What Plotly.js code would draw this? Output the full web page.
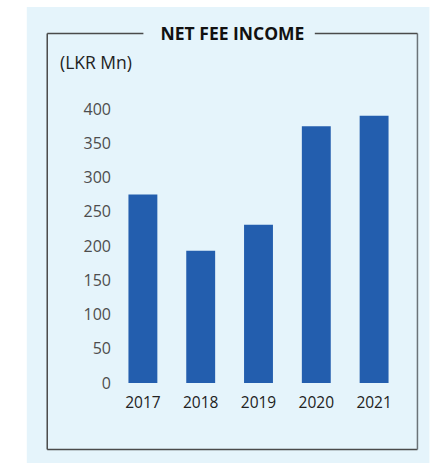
<!DOCTYPE html>
<html>
<head>
<meta charset="utf-8">
<script src="https://cdn.plot.ly/plotly-3.0.1.min.js"></script>
<style>html,body{margin:0;padding:0;background:#fff;}#chart{width:430px;height:463px;}</style>
</head>
<body>
<div id="chart"></div>
<script>
const years = ['2017', '2018', '2019', '2020', '2021'];
const netFeeIncome = [275, 193, 231, 375, 390];
const yTicks = [0, 50, 100, 150, 200, 250, 300, 350, 400];

const W = 430, H = 463;
const M = {l: 113.5, r: 26.5, t: 109, b: 80};
const pw = W - M.l - M.r, ph = H - M.t - M.b;
const px = v => (v - M.l) / pw;
const py = v => (H - M.b - v) / ph;

const lineStyle = {color: '#4a4a4a', width: 1.5};
const shapes = [
  {type: 'rect', xref: 'paper', yref: 'paper', x0: px(26), x1: px(430), y0: py(463), y1: py(7),
   fillcolor: '#e5f4fb', line: {width: 0}, layer: 'below'},
  {type: 'line', xref: 'paper', yref: 'paper', x0: px(46.5), x1: px(46.5), y0: py(33.5), y1: py(449.5), line: lineStyle},
  {type: 'line', xref: 'paper', yref: 'paper', x0: px(46.5), x1: px(418), y0: py(449.5), y1: py(449.5), line: lineStyle},
  {type: 'line', xref: 'paper', yref: 'paper', x0: px(418), x1: px(418), y0: py(33.5), y1: py(449.5), line: {color: '#6b7378', width: 1.5}},
  {type: 'line', xref: 'paper', yref: 'paper', x0: px(46.5), x1: px(143), y0: py(33.5), y1: py(33.5), line: lineStyle},
  {type: 'line', xref: 'paper', yref: 'paper', x0: px(315), x1: px(418), y0: py(33.5), y1: py(33.5), line: lineStyle}
];

const data = [{
  type: 'bar',
  x: years,
  y: netFeeIncome,
  marker: {color: '#235eae'},
  hoverinfo: 'x+y'
}];

const layout = {
  width: W, height: H,
  margin: M,
  paper_bgcolor: 'rgba(0,0,0,0)',
  plot_bgcolor: 'rgba(0,0,0,0)',
  font: {family: '"Open Sans", "Noto Sans", sans-serif'},
  bargap: 0.5,
  showlegend: false,
  title: {
    text: '<b>NET FEE INCOME</b>',
    font: {size: 17.5, color: '#111'},
    xref: 'container', yref: 'container',
    x: 232.5 / W, y: 1 - 33.5 / H, xanchor: 'center', yanchor: 'middle'
  },
  xaxis: {
    type: 'category',
    showgrid: false, zeroline: false, showline: false, ticks: '',
    tickfont: {size: 15.5, color: '#222'},
    ticklabelstandoff: 8
  },
  yaxis: {
    range: [0, 400],
    tickvals: yTicks,
    ticktext: yTicks.map(String),
    showgrid: false, zeroline: false, showline: false, ticks: '',
    tickfont: {size: 16, color: '#4d4d4d'},
    ticklabelstandoff: 2
  },
  shapes: shapes,
  annotations: [{
    text: '(LKR Mn)', xref: 'paper', yref: 'paper',
    x: px(57), y: py(62), xanchor: 'left', yanchor: 'middle',
    showarrow: false, font: {size: 17.5, color: '#222'}
  }]
};

Plotly.newPlot('chart', data, layout, {displayModeBar: false, staticPlot: true});
</script>
</body>
</html>
